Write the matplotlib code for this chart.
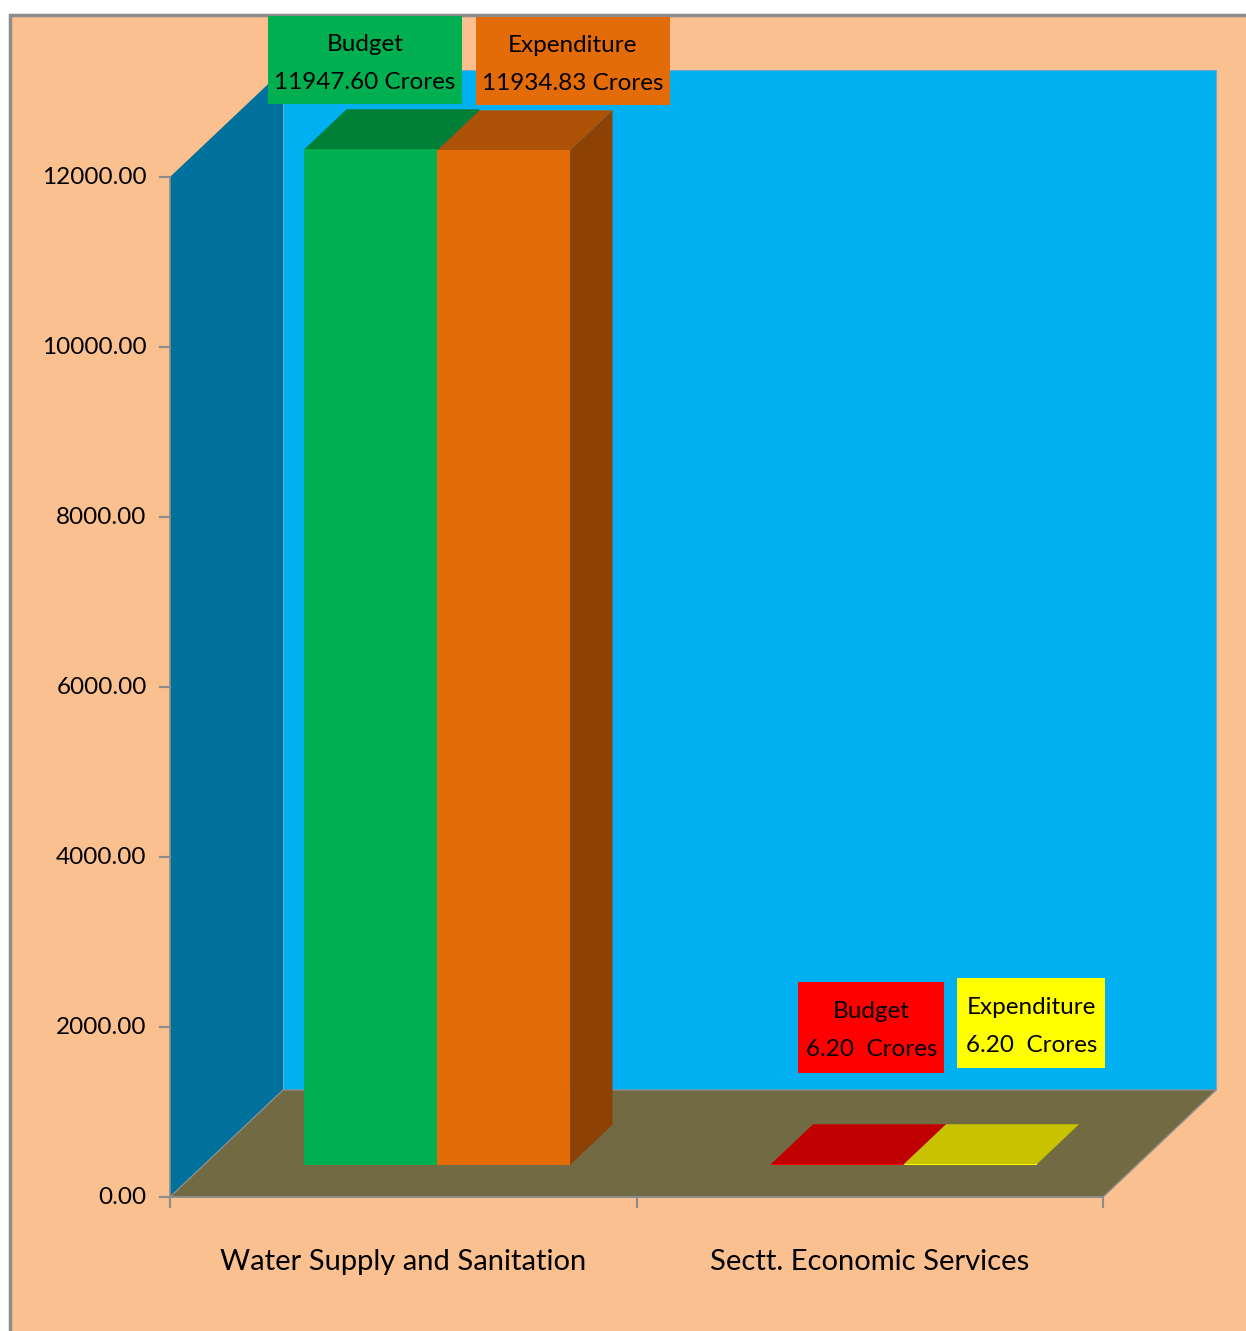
import matplotlib
matplotlib.use('Agg')
import matplotlib.pyplot as plt
from matplotlib.patches import Polygon, Rectangle
from matplotlib.transforms import IdentityTransform

# Budget vs expenditure (Rs. Crores) by sector
categories = ['Water Supply and Sanitation', 'Sectt. Economic Services']
series_names = ['Budget', 'Expenditure']
budget = [11947.60, 6.20]
expenditure = [11934.83, 6.20]
y_ticks = [0, 2000, 4000, 6000, 8000, 10000, 12000]

values = [budget, expenditure]

# face / top / side colours per category and series
face_colors = [['#00B050', '#E36C09'], ['#FF0000', '#FFFF00']]
top_colors = [['#008037', '#AD5207'], ['#C00000', '#C8C200']]
side_colors = [['#006B30', '#8E4104'], ['#900000', '#999400']]
label_colors = [['#00B050', '#E36C09'], ['#FF0000', '#FFFF00']]
label_sep = [' ', '  ']
# label box offsets from the centre of each bar top, and box sizes (pixels)
label_offsets = [[(-27, 69), (48, 69)], [(13, 117), (40, 121)]]
label_boxes = [[(194, 88), (194, 88)], [(146, 91), (148, 90)]]

plt.rcParams['font.family'] = ['Lato', 'DejaVu Sans']

W, H = 1246, 1331
fig = plt.figure(figsize=(W / 100, H / 100), dpi=100)
fig.patch.set_facecolor('white')

# chart area background with grey frame
fig.patches.append(Rectangle((10 / W, -0.01), 1.0, (H - 15) / H + 0.01, transform=fig.transFigure,
                             facecolor='#FAC08F', edgecolor='#8C8C8C', linewidth=2.5, zorder=-5))

# front plane of the 3D plot area
left, right, bottom, top = 170, 1103, 1197, 177
ax = fig.add_axes([left / W, (H - bottom) / H, (right - left) / W, (bottom - top) / H])
ax.set_zorder(2)
ax.set_xlim(0, len(categories))
ax.set_ylim(0, 12000)
ax.axis('off')

px_x = (right - left) / len(categories)
px_y = (bottom - top) / 12000
DX = 113 / px_x
DY = 107 / px_y


def proj(x, v, z):
    return (x + z * DX, v + z * DY)


def poly(pts, color, z, ec='none', lw=0):
    ax.add_patch(Polygon(pts, closed=True, facecolor=color, edgecolor=ec, linewidth=lw,
                         zorder=z, clip_on=False))


n = len(categories)
ymax = 12000
# back wall, side wall, floor
poly([proj(0, 0, 1), proj(n, 0, 1), proj(n, ymax, 1), proj(0, ymax, 1)], '#00B0F0', 1, '#6FA8C8', 0.8)
poly([proj(0, 0, 0), proj(0, ymax, 0), proj(0, ymax, 1), proj(0, 0, 1)], '#00709C', 1)
poly([proj(0, 0, 0), proj(n, 0, 0), proj(n, 0, 1), proj(0, 0, 1)], '#716A42', 1, '#8C8C8C', 1.0)

GAP, BAR_W, Z0, Z1 = 0.215, 0.285, 0.3, 0.675

for ci in range(n):
    for si in range(len(series_names)):
        v = values[si][ci]
        x0 = ci + GAP + si * BAR_W
        x1 = x0 + BAR_W
        zo = 3 + si
        # right side, top, front
        poly([proj(x1, 0, Z0), proj(x1, 0, Z1), proj(x1, v, Z1), proj(x1, v, Z0)], side_colors[ci][si], zo)
        poly([proj(x0, v, Z0), proj(x1, v, Z0), proj(x1, v, Z1), proj(x0, v, Z1)], top_colors[ci][si], zo)
        poly([proj(x0, 0, Z0), proj(x1, 0, Z0), proj(x1, v, Z0), proj(x0, v, Z0)], face_colors[ci][si], zo)

        # value label in a filled box above the bar
        cx, cy = proj((x0 + x1) / 2, v, (Z0 + Z1) / 2)
        dx, dy = label_offsets[ci][si]
        bw, bh = label_boxes[ci][si]
        px, py = ax.transData.transform((cx, cy))
        ax.add_patch(Rectangle((px + dx - bw / 2, py + dy - bh / 2), bw, bh,
                               transform=IdentityTransform(), facecolor=label_colors[ci][si],
                               edgecolor='none', zorder=8, clip_on=False))
        ax.annotate(f'{series_names[si]}\n{v:.2f}{label_sep[ci]}Crores', (cx, cy),
                    xytext=(dx, dy - 3), textcoords='offset pixels',
                    ha='center', va='center', fontsize=17.5, linespacing=2.0, color='black',
                    zorder=10, annotation_clip=False)

# axes lines and ticks
axis_grey = '#8C8C8C'
ax.plot([0, 0], [0, ymax], color=axis_grey, lw=1.2, clip_on=False, zorder=6)
ax.plot([0, n], [0, 0], color=axis_grey, lw=1.2, clip_on=False, zorder=6)
tick_dx = 10 / px_x
tick_dy = 10 / px_y
for t in y_ticks:
    ax.plot([-tick_dx, 0], [t, t], color=axis_grey, lw=1.5, clip_on=False, zorder=6)
    ax.text(-0.05, t, f'{t:.2f}', ha='right', va='center', fontsize=17.5, clip_on=False)
for i in range(n + 1):
    ax.plot([i, i], [0, -tick_dy], color=axis_grey, lw=1.5, clip_on=False, zorder=6)
for i, name in enumerate(categories):
    ax.annotate(name, (i + 0.5, 0), xytext=(0, -65), textcoords='offset pixels',
                ha='center', va='center', fontsize=21, annotation_clip=False)

fig.savefig('out.png', dpi=100)
